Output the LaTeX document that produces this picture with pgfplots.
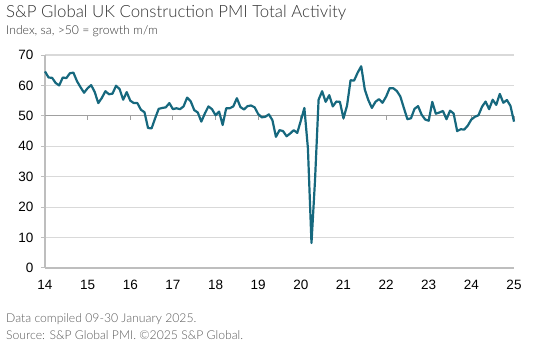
\documentclass[border=0pt]{standalone}
\usepackage{pgfplots}
\pgfplotsset{compat=1.18}
\usepackage{pgfplotstable}
\usepackage{fontspec}
\setmainfont{Liberation Sans}
\newfontfamily\titlefont{Lato}[UprightFont=* Light]
\definecolor{lineteal}{RGB}{22,104,126}
\definecolor{gridgrey}{RGB}{217,217,217}
\definecolor{axisgrey}{RGB}{190,190,190}
\definecolor{midgrey}{RGB}{160,160,160}
\definecolor{titlegrey}{RGB}{50,50,50}
\definecolor{footgrey}{RGB}{90,90,90}
\pgfplotstableread{
m v
0 64.6
1 62.6
2 62.5
3 60.8
4 60.0
5 62.6
6 62.4
7 64.0
8 64.2
9 61.4
10 59.4
11 57.6
12 59.1
13 60.1
14 57.8
15 54.2
16 55.9
17 58.1
18 57.1
19 57.3
20 59.9
21 58.8
22 55.3
23 57.8
24 55.0
25 54.2
26 54.2
27 52.0
28 51.2
29 46.0
30 45.9
31 49.2
32 52.3
33 52.6
34 52.8
35 54.2
36 52.2
37 52.5
38 52.2
39 53.1
40 56.0
41 54.8
42 51.9
43 51.1
44 48.1
45 50.8
46 53.1
47 52.2
48 50.2
49 51.4
50 47.0
51 52.5
52 52.5
53 53.1
54 55.8
55 52.9
56 52.1
57 53.2
58 53.4
59 52.8
60 50.6
61 49.5
62 49.7
63 50.5
64 48.6
65 43.1
66 45.3
67 45.0
68 43.3
69 44.2
70 45.3
71 44.4
72 48.4
73 52.6
74 39.3
75 8.2
76 28.9
77 55.3
78 58.1
79 54.6
80 56.8
81 53.1
82 54.7
83 54.6
84 49.2
85 53.3
86 61.7
87 61.6
88 64.2
89 66.3
90 58.7
91 55.2
92 52.6
93 54.6
94 55.5
95 54.3
96 56.3
97 59.1
98 59.1
99 58.2
100 56.4
101 52.6
102 48.9
103 49.2
104 52.3
105 53.2
106 50.4
107 48.8
108 48.4
109 54.6
110 50.7
111 51.1
112 51.6
113 48.9
114 51.7
115 50.8
116 45.0
117 45.6
118 45.5
119 46.8
120 48.8
121 49.7
122 50.2
123 53.0
124 54.7
125 52.2
126 55.3
127 53.6
128 57.2
129 54.3
130 55.2
131 53.3
132 48.1
}\pmidata
\begin{document}
\begin{tikzpicture}[x=1pt,y=1pt]
\useasboundingbox (0,0) rectangle (541,350);
\node[anchor=base west, inner sep=0, text=titlegrey, font=\titlefont\fontsize{16.8}{18}\selectfont] at (6,332) {S\&P Global UK Construction PMI Total Activity};
\node[anchor=base west, inner sep=0, text=titlegrey, font=\titlefont\fontsize{12.2}{14}\selectfont] at (6,315) {Index, sa, >50 = growth m/m};
\node[anchor=base west, inner sep=0, text=footgrey, font=\titlefont\fontsize{12.2}{14}\selectfont] at (6,27) {Data compiled 09-30 January 2025.};
\node[anchor=base west, inner sep=0, text=footgrey, font=\titlefont\fontsize{12.2}{14}\selectfont] at (6,10) {Source: S\&P Global PMI. \textcopyright2025 S\&P Global.};
\begin{axis}[
  at={(45pt,82pt)}, anchor=south west,
  scale only axis, width=469pt, height=213pt,
  xmin=0, xmax=132, ymin=0, ymax=70,
  xtick={0,12,...,132},
  xticklabels={14,15,16,17,18,19,20,21,22,23,24,25},
  ytick={0,10,...,70},
  axis x line*=bottom, axis y line*=left,
  axis line style={draw=axisgrey, line width=1.2pt},
  x axis line style={-}, y axis line style={-},
  ymajorgrids,
  grid style={draw=gridgrey, line width=1.2pt},
  xtick style={draw=none},
  ytick style={draw=axisgrey, line width=1pt},
  tick align=outside,
  major tick length=4pt,
  /pgf/number format/assume math mode=true,
  ticklabel style={font=\fontsize{13.5}{14}\selectfont, text=black},
  xticklabel style={yshift=-5pt},
  yticklabel style={xshift=-4pt},
  clip=false,
]
\draw[draw=midgrey, line width=1.2pt] (axis cs:0,50) -- (axis cs:132,50);
\pgfplotsinvokeforeach{12,24,...,132}{
  \draw[draw=midgrey, line width=1pt] (axis cs:#1,50) -- ++(0pt,-4pt);
}
\addplot[draw=lineteal, line width=2.2pt, line join=round, mark=none] table[x=m, y=v] {\pmidata};
\end{axis}
\end{tikzpicture}
\end{document}
